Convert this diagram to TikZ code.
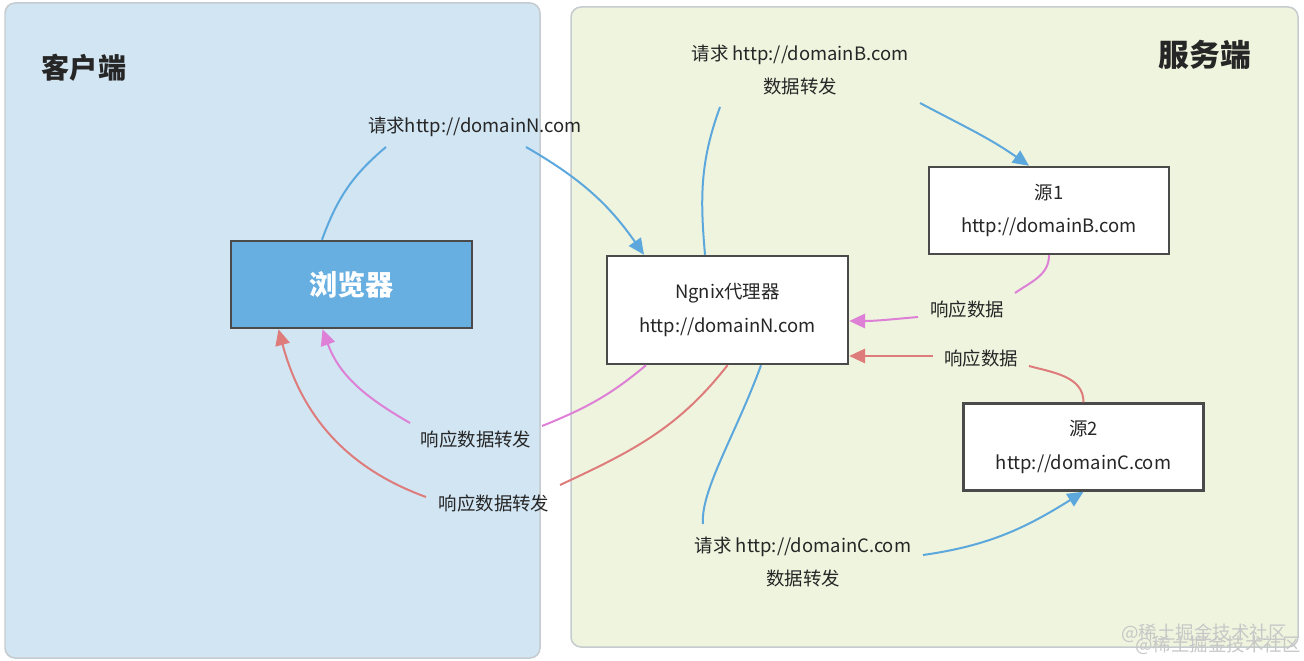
\documentclass[tikz,border=0pt]{standalone}
\usepackage{fontspec}
\setmainfont{Noto Sans CJK SC}
\usepackage{tikz}
\usetikzlibrary{arrows.meta, calc}

\definecolor{clientbg}{HTML}{D1E5F3}
\definecolor{serverbg}{HTML}{EFF4DE}
\definecolor{panelline}{HTML}{C5CBCE}
\definecolor{boxline}{HTML}{4A4A4A}
\definecolor{browserfill}{HTML}{67AEE1}
\definecolor{reqblue}{HTML}{5CA8DD}
\definecolor{resppink}{HTML}{DD80D6}
\definecolor{respred}{HTML}{DE7C7C}

\begin{document}
\begin{tikzpicture}[x=0.02cm, y=0.02cm,
    panel/.style={draw=panelline, line width=0.03cm, rounded corners=0.2cm},
    paneltitle/.style={inner sep=0pt, font=\fontsize{16}{19}\selectfont\bfseries, text=black!85},
    box/.style={rectangle, draw=boxline, line width=0.05cm, fill=white, minimum width=4.8cm, minimum height=1.74cm, align=center, font=\fontsize{10.5}{19}\selectfont, text=black!85},
    lbl/.style={inner sep=0pt, align=center, font=\fontsize{10.5}{19}\selectfont, text=black!85},
    line/.style={line width=0.04cm},
    arrow/.style={line, -{Triangle[length=0.32cm, width=0.29cm]}}]
    \useasboundingbox (0,0) rectangle (1304,-661);

    % Panels
    \draw[panel, fill=clientbg] (5,-3) rectangle (540,-658);
    \draw[panel, fill=serverbg] (571,-7) rectangle (1298,-647);
    \node[paneltitle] (client) at (84,-68) {客户端};
    \node[paneltitle, font=\fontsize{17.5}{19}\selectfont\bfseries] (server) at (1205,-55) {服务端};

    % Boxes
    \node[box, fill=browserfill, minimum width=4.82cm, font=\fontsize{16}{19}\selectfont\bfseries, text=white] (browser) at (351.5,-284.5) {浏览器};
    \node[box, minimum width=4.82cm, minimum height=2.16cm] (ngnix) at (727.5,-310) {Ngnix代理器\\http://domainN.com};
    \node[box] (src1) at (1049,-210.5) {源1\\http://domainB.com};
    \node[box] (src2) at (1083.5,-447) {源2\\http://domainC.com};

    % Labels
    \node[lbl] (req1) at (475,-127) {请求http://domainN.com};
    \node[lbl] (reqB) at (800,-70) {请求 http://domainB.com\\数据转发};
    \node[lbl] (reqC) at (803,-562) {请求 http://domainC.com\\数据转发};
    \node[lbl] (resp1) at (967,-309) {响应数据};
    \node[lbl] (resp2) at (981,-358) {响应数据};
    \node[lbl] (fwd1) at (476,-439) {响应数据转发};
    \node[lbl] (fwd2) at (494,-503) {响应数据转发};

    % Watermark
    \node[lbl, text=black!22] (mark1) at (1204,-633) {@稀土掘金技术社区};
    \node[lbl, text=black!22] (mark2) at (1218,-645) {@稀土掘金技术社区};

    % Requests
    \draw[line, reqblue] ($(browser.north)+(-29.5,0)$) to[out=70, in=220] ($(req1)+(-89,-20)$);
    \draw[arrow, reqblue] ($(req1)+(51,-20)$) to[out=-30, in=125] ($(ngnix.north)+(-83.5,0)$);
    \draw[line, reqblue] ($(ngnix.north)+(-22.5,0)$) to[out=95, in=-110] ($(reqB)+(-80,-37)$);
    \draw[arrow, reqblue] ($(reqB)+(120,-33)$) to[out=-28, in=145] ($(src1.north)+(-20,0)$);
    \draw[line, reqblue] ($(ngnix.south)+(33.5,0)$) to[out=-110, in=95, out looseness=1.1, in looseness=0.5] ($(reqC)+(-100,38)$);
    \draw[arrow, reqblue] ($(reqC)+(120,7)$) to[out=8, in=212] (src2.south);

    % Responses
    \draw[line, resppink] (src1.south) to[out=-90, in=35] ($(resp1)+(48,16)$);
    \draw[arrow, resppink] ($(resp1)+(-49,-8)$) to[out=185, in=0] ($(ngnix.east)+(0,-11)$);
    \draw[line, respred] (src2.north) to[out=90, in=-15] ($(resp2)+(48,-8)$);
    \draw[arrow, respred] ($(resp2)+(-48,2)$) -- ($(ngnix.east)+(0,-46)$);
    \draw[line, resppink] ($(ngnix.south)+(-81.5,0)$) to[out=-140, in=22] ($(fwd1)+(66,13)$);
    \draw[arrow, resppink] ($(fwd1)+(-66,16)$) to[out=150, in=-70] ($(browser.south)+(-29,0)$);
    \draw[line, respred] (ngnix.south) to[out=-128, in=25] ($(fwd2)+(66,18)$);
    \draw[arrow, respred] ($(fwd2)+(-68,6)$) to[out=160, in=-75] ($(browser.south)+(-73,0)$);
\end{tikzpicture}
\end{document}
